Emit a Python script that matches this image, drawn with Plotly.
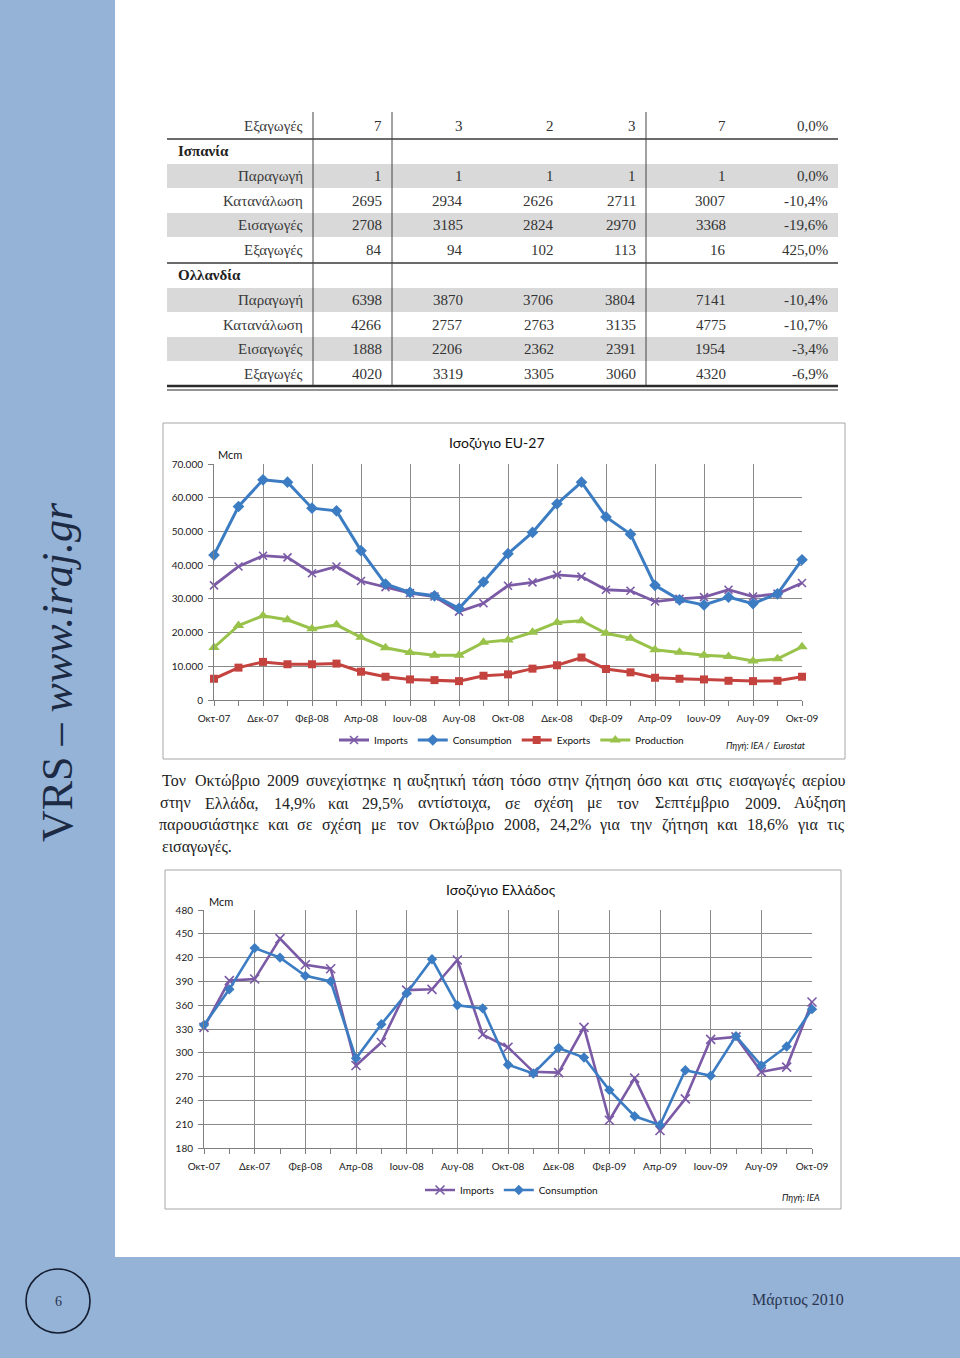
import plotly.graph_objects as go

W, H = 960, 1358


def X(p):
    return p / W


def Y(p):
    return 1 - p / H


# ------------------------------------------------------------------ data
months = ["Οκτ-07", "Νοε-07", "Δεκ-07", "Ιαν-08", "Φεβ-08", "Μαρ-08", "Απρ-08",
          "Μαϊ-08", "Ιουν-08", "Ιουλ-08", "Αυγ-08", "Σεπ-08", "Οκτ-08", "Νοε-08",
          "Δεκ-08", "Ιαν-09", "Φεβ-09", "Μαρ-09", "Απρ-09", "Μαϊ-09", "Ιουν-09",
          "Ιουλ-09", "Αυγ-09", "Σεπ-09", "Οκτ-09"]

eu_imports = [34000, 39600, 42800, 42300, 37600, 39600, 35300, 33500, 31700, 30700,
              26200, 28700, 33900, 34900, 37100, 36600, 32700, 32400, 29200, 30000,
              30500, 32700, 30700, 31500, 34700]
eu_consumption = [43000, 57400, 65300, 64600, 56900, 56100, 44300, 34400, 31900, 30900,
                  27200, 35000, 43400, 49700, 58200, 64600, 54300, 49200, 34000, 29700,
                  28200, 30500, 28600, 31500, 41600]
eu_exports = [6300, 9600, 11300, 10600, 10600, 10800, 8400, 6900, 6100, 5900,
              5600, 7200, 7600, 9300, 10300, 12600, 9200, 8200, 6600, 6300,
              6100, 5700, 5600, 5700, 6900]
eu_production = [15600, 22100, 25000, 23800, 21100, 22300, 18600, 15500, 14100, 13300,
                 13300, 17100, 17800, 20100, 23000, 23500, 19800, 18300, 14900, 14200,
                 13300, 12900, 11600, 12200, 15800]

gr_imports = [332, 391, 393, 444, 411, 406, 284, 313, 379, 380, 417, 323, 307, 276,
              275, 332, 215, 268, 202, 242, 317, 320, 276, 282, 364]
gr_consumption = [335, 380, 432, 420, 397, 390, 293, 336, 375, 418, 360, 356, 285, 274,
                  306, 294, 253, 220, 209, 278, 271, 321, 284, 308, 355]

eu_yticks = [0, 10000, 20000, 30000, 40000, 50000, 60000, 70000]
eu_yticklabels = ["0", "10.000", "20.000", "30.000", "40.000", "50.000", "60.000", "70.000"]
gr_yticks = [180, 210, 240, 270, 300, 330, 360, 390, 420, 450, 480]
gr_yticklabels = ["180", "210", "240", "270", "300", "330", "360", "390", "420", "450", "480"]

# table
tbl_labels = ["Εξαγωγές", "Ισπανία", "Παραγωγή", "Κατανάλωση", "Εισαγωγές", "Εξαγωγές",
              "Ολλανδία", "Παραγωγή", "Κατανάλωση", "Εισαγωγές", "Εξαγωγές"]
tbl_header_rows = [1, 6]
tbl_shaded_rows = [2, 4, 7, 9]
prev_exports = ["7", "3", "2", "3", "7", "0,0%"]
es_production = ["1", "1", "1", "1", "1", "0,0%"]
es_consumption = ["2695", "2934", "2626", "2711", "3007", "-10,4%"]
es_imports = ["2708", "3185", "2824", "2970", "3368", "-19,6%"]
es_exports = ["84", "94", "102", "113", "16", "425,0%"]
nl_production = ["6398", "3870", "3706", "3804", "7141", "-10,4%"]
nl_consumption = ["4266", "2757", "2763", "3135", "4775", "-10,7%"]
nl_imports = ["1888", "2206", "2362", "2391", "1954", "-3,4%"]
nl_exports = ["4020", "3319", "3305", "3060", "4320", "-6,9%"]
tbl_values = [prev_exports, None, es_production, es_consumption, es_imports, es_exports,
              None, nl_production, nl_consumption, nl_imports, nl_exports]

paragraph = [
    "Τον Οκτώβριο 2009 συνεχίστηκε η αυξητική τάση τόσο στην ζήτηση όσο και στις εισαγωγές αερίου",
    "στην Ελλάδα, 14,9% και 29,5% αντίστοιχα, σε σχέση με τον Σεπτέμβριο 2009. Αύξηση",
    "παρουσιάστηκε και σε σχέση με τον Οκτώβριο 2008, 24,2% για την ζήτηση και 18,6% για τις",
    "εισαγωγές.",
]

# ------------------------------------------------------------------ styles
C_IMP = "#7B5AA6"
C_CON = "#3C7CC2"
C_EXP = "#C4433F"
C_PRO = "#98C24A"
GRID = "#8A8A8A"
AXC = "#7F7F7F"
SANS = "Lato"
SERIF = "Liberation Serif"
BLUE_BG = "#95B3D7"
DARK = "#1C2A44"

fig = go.Figure()
xi = list(range(len(months)))


def add_line(y, name, color, symbol, size, width, xa, ya, legend):
    marker = dict(symbol=symbol, size=size, color=color)
    if symbol.startswith("x-thin"):
        marker = dict(symbol="x-thin", size=size, color=color,
                      line=dict(color=color, width=1.6))
    fig.add_trace(go.Scatter(
        x=xi, y=y, name=name, mode="lines+markers",
        line=dict(color=color, width=width), marker=marker,
        xaxis=xa, yaxis=ya, legend=legend, cliponaxis=False,
    ))


add_line(eu_imports, "Imports", C_IMP, "x-thin", 8, 2.8, "x", "y", "legend")
add_line(eu_consumption, "Consumption", C_CON, "diamond", 9, 3, "x", "y", "legend")
add_line(eu_exports, "Exports", C_EXP, "square", 8, 3, "x", "y", "legend")
add_line(eu_production, "Production", C_PRO, "triangle-up", 10, 3, "x", "y", "legend")

add_line(gr_imports, "Imports", C_IMP, "x-thin", 9, 2.6, "x2", "y2", "legend2")
add_line(gr_consumption, "Consumption", C_CON, "diamond", 8, 2.6, "x2", "y2", "legend2")

tickfont = dict(family=SANS, size=10, color="#1a1a1a")


def xaxis_cfg(x0, x1, anchor):
    return dict(
        domain=[X(x0), X(x1)], range=[0, len(months) - 1], anchor=anchor,
        tickmode="array", tickvals=xi[::2], ticktext=months[::2],
        showgrid=True, gridcolor=GRID, gridwidth=1, zeroline=False,
        showline=True, linecolor=AXC, linewidth=1, automargin=False,
        ticks="outside", ticklen=5, tickcolor=AXC, tickwidth=1,
        minor=dict(tickmode="linear", tick0=0, dtick=1, ticks="outside",
                   ticklen=5, tickcolor=AXC, showgrid=False),
        tickfont=tickfont, ticklabelstandoff=4, fixedrange=True,
    )


def yaxis_cfg(ybot, ytop, rng, tv, tt, anchor):
    return dict(
        domain=[Y(ybot), Y(ytop)], range=rng, anchor=anchor,
        tickmode="array", tickvals=tv, ticktext=tt,
        showgrid=True, gridcolor=GRID, gridwidth=1, zeroline=False,
        showline=True, linecolor=AXC, linewidth=1, automargin=False,
        ticks="outside", ticklen=5, tickcolor=AXC,
        tickfont=tickfont, ticklabelstandoff=3, fixedrange=True,
    )


shapes = []
annotations = []


def rect(x0, y0, x1, y1, fill=None, line=None, lw=1, layer="below"):
    shapes.append(dict(type="rect", xref="paper", yref="paper",
                       x0=X(x0), x1=X(x1), y0=Y(y1), y1=Y(y0),
                       fillcolor=fill if fill else "rgba(0,0,0,0)",
                       line=dict(color=line if line else "rgba(0,0,0,0)", width=lw if line else 0),
                       layer=layer))


def hline(x0, x1, y, color, w):
    shapes.append(dict(type="line", xref="paper", yref="paper",
                       x0=X(x0), x1=X(x1), y0=Y(y), y1=Y(y),
                       line=dict(color=color, width=w), layer="above"))


def vline(x, y0, y1, color, w):
    shapes.append(dict(type="line", xref="paper", yref="paper",
                       x0=X(x), x1=X(x), y0=Y(y0), y1=Y(y1),
                       line=dict(color=color, width=w), layer="above"))


def text(x, y, s, size, family=SERIF, color="#333333", xanchor="center",
         yanchor="middle", angle=0):
    annotations.append(dict(x=X(x), y=Y(y), xref="paper", yref="paper", text=s,
                            showarrow=False, xanchor=xanchor, yanchor=yanchor,
                            textangle=angle, font=dict(family=family, size=size, color=color)))


# page decorations
rect(0, 0, 115, 1258, fill=BLUE_BG)
rect(0, 1257, 960, 1358, fill=BLUE_BG)
shapes.append(dict(type="circle", xref="paper", yref="paper",
                   x0=X(26), x1=X(90), y0=Y(1333), y1=Y(1269),
                   line=dict(color="#141C30", width=1.6), layer="above"))
text(58, 1301, "6", 14, color="#2A3550")
text(798, 1300, "Μάρτιος 2010", 16, color="#2A3550")
text(57, 672, "VRS – <i>www.iraj.gr</i>", 44, color=DARK, angle=-90)

# ------------------------------------------------------------------ table
row_y = [126, 151, 176, 201, 225, 250, 275, 300, 325, 349, 374]
col_right = [384, 465, 556, 638, 728, 830]
for r in tbl_shaded_rows:
    rect(167, row_y[r] - 12, 838, row_y[r] + 12, fill="#D9D9D9")
hline(167, 838, 139, "#3a3a3a", 1.5)
hline(167, 838, 263, "#3a3a3a", 1.5)
hline(167, 838, 386, "#2a2a2a", 2.5)
hline(167, 838, 390, "#2a2a2a", 1.2)
for vx in [313, 392, 646]:
    vline(vx, 112, 385, "#444444", 1)

for r, lab in enumerate(tbl_labels):
    if r in tbl_header_rows:
        text(176, row_y[r], "<b>" + lab + "</b>", 15, color="#222222", xanchor="left")
        continue
    text(305, row_y[r], lab, 15, color="#3a3a3a", xanchor="right")
    for c, v in enumerate(tbl_values[r]):
        text(col_right[c], row_y[r], v, 15, color="#333333", xanchor="right")


# ------------------------------------------------------------------ paragraph (justified)
def est_width(s, size):
    w = 0.0
    for ch in s:
        if ch in " ,.":
            w += 0.25
        elif ch == "%":
            w += 0.833
        elif ch.isdigit():
            w += 0.5
        elif ch in "ιίϊΐ":
            w += 0.28
        elif ch in "ωώ":
            w += 0.69
        elif ch in "μφψ":
            w += 0.58
        elif ch in "τεέγςζξ":
            w += 0.44
        elif ch.isupper():
            w += 0.72
        else:
            w += 0.5
    return w * size


P_SIZE = 16
P_LEFT, P_RIGHT = 160, 845
para_y = [781, 803, 825, 847]
for li, line in enumerate(paragraph):
    if li == len(paragraph) - 1:
        text(P_LEFT, para_y[li], line, P_SIZE, color="#222222", xanchor="left")
        continue
    words = line.split(" ")
    widths = [est_width(w, P_SIZE) for w in words]
    gap = (P_RIGHT - P_LEFT - sum(widths)) / (len(words) - 1)
    cx = P_LEFT
    for w, wd in zip(words, widths):
        text(cx + wd / 2, para_y[li], w, P_SIZE, color="#222222", xanchor="center")
        cx += wd + gap

# ------------------------------------------------------------------ chart frames & labels
rect(163, 423, 845, 759, line="#A6A6A6", lw=1, layer="below")
rect(165, 870, 841, 1209, line="#A6A6A6", lw=1, layer="below")

text(497, 443, "Ισοζύγιο EU-27", 14, family=SANS, color="#111111")
text(230, 455, "Mcm", 11, family=SANS, color="#111111")
text(766, 745, "<i>Πηγή: IEA /  Eurostat</i>", 9, family=SANS, color="#111111")

text(501, 889, "Ισοζύγιο Ελλάδος", 14, family=SANS, color="#111111")
text(221, 901, "Mcm", 11, family=SANS, color="#111111")
text(801, 1197, "<i>Πηγή: IEA</i>", 9, family=SANS, color="#111111")

legend_font = dict(family=SANS, size=10, color="#111111")
fig.update_layout(
    width=W, height=H, autosize=False,
    margin=dict(l=0, r=0, t=0, b=0, pad=0, autoexpand=False),
    paper_bgcolor="white", plot_bgcolor="rgba(0,0,0,0)",
    showlegend=True,
    xaxis=xaxis_cfg(214, 802, "y"),
    yaxis=yaxis_cfg(700, 464, [0, 70000], eu_yticks, eu_yticklabels, "x"),
    xaxis2=xaxis_cfg(204, 812, "y2"),
    yaxis2=yaxis_cfg(1148, 910, [180, 480], gr_yticks, gr_yticklabels, "x2"),
    legend=dict(orientation="h", x=X(334), xanchor="left", y=Y(740), yanchor="middle",
                font=legend_font, bgcolor="rgba(0,0,0,0)", itemwidth=30,
                itemclick=False, itemdoubleclick=False),
    legend2=dict(orientation="h", x=X(420), xanchor="left", y=Y(1190), yanchor="middle",
                 font=legend_font, bgcolor="rgba(0,0,0,0)", itemwidth=30,
                 itemclick=False, itemdoubleclick=False),
    shapes=shapes, annotations=annotations,
)

fig.write_html(
    "out.html",
    config={"displayModeBar": False, "responsive": False},
    post_script="document.body.style.margin='0';document.body.style.padding='0';"
                "document.documentElement.style.overflow='hidden';",
)
